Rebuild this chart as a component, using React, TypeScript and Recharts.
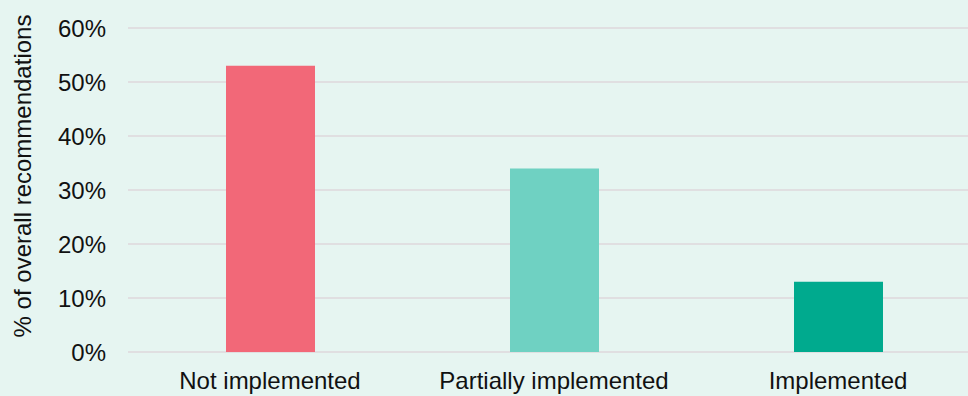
import { BarChart, Bar, XAxis, YAxis, CartesianGrid, Cell } from 'recharts'

const categories = ['Not implemented', 'Partially implemented', 'Implemented']
const shares = [53, 34, 13]
const barColors = ['#f26878', '#6fd1c2', '#00aa8e']
const yTicks = [0, 10, 20, 30, 40, 50, 60]

const data = categories.map((name, i) => ({ name, share: shares[i] }))

const font = '"Liberation Sans", Arial, sans-serif'

export default function App() {
  return (
    <div
      style={{
        position: 'fixed',
        left: 0,
        top: 0,
        width: 968,
        height: 396,
        overflow: 'hidden',
        background: '#e6f5f1',
        fontFamily: font,
      }}
    >
      <BarChart
        width={980}
        height={396}
        data={data}
        margin={{ top: 28, right: 0, bottom: 0, left: 0 }}
      >
        <CartesianGrid vertical={false} stroke="#e0dfe1" strokeWidth={2} />
        <XAxis
          dataKey="name"
          height={44}
          axisLine={false}
          tickLine={false}
          tickSize={0}
          tickMargin={20}
          interval={0}
          tick={{ fill: '#111', fontSize: 24, fontFamily: font }}
        />
        <YAxis
          width={128}
          domain={[0, 60]}
          ticks={yTicks}
          tickFormatter={(v: number) => `${v}%`}
          axisLine={false}
          tickLine={false}
          tickSize={0}
          tickMargin={22}
          tick={{ fill: '#111', fontSize: 24, fontFamily: font }}
          label={{
            content: () => (
              <text
                x={22}
                y={176}
                transform="rotate(-90, 22, 176)"
                textAnchor="middle"
                dominantBaseline="central"
                fill="#111"
                fontSize={24}
                fontFamily={font}
              >
                % of overall recommendations
              </text>
            ),
          }}
        />
        <Bar dataKey="share" barSize={89} isAnimationActive={false}>
          {data.map((d, i) => (
            <Cell key={d.name} fill={barColors[i]} />
          ))}
        </Bar>
      </BarChart>
    </div>
  )
}
